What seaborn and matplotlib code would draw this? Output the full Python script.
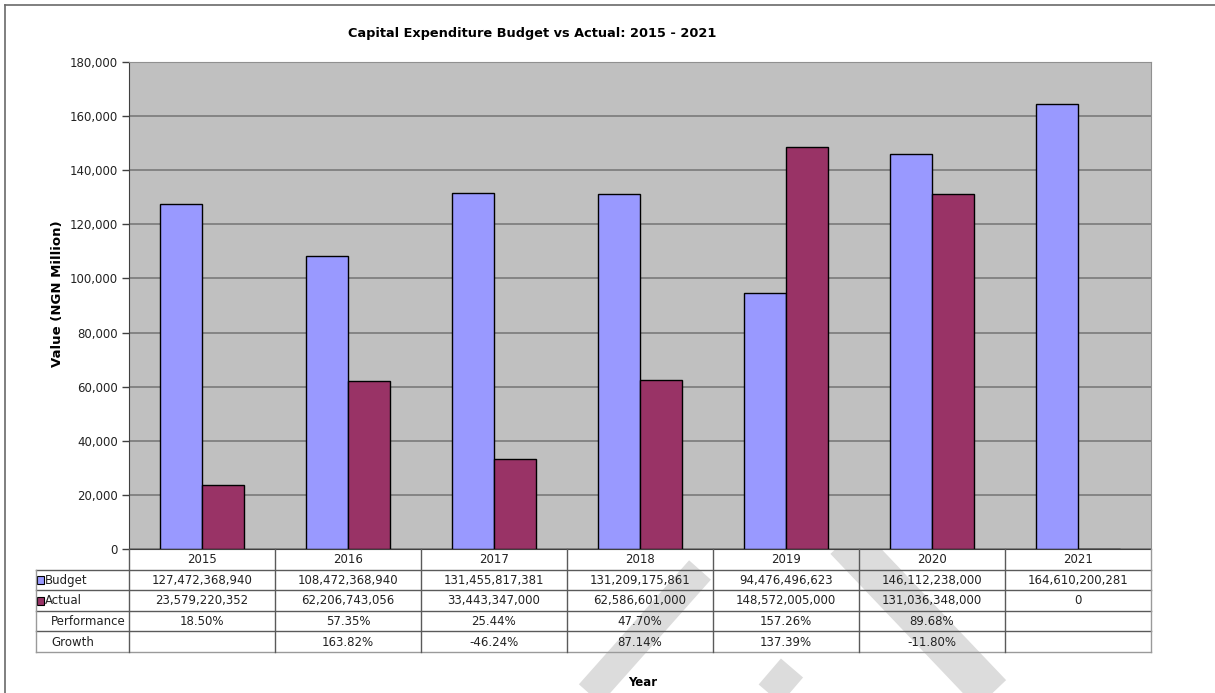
import pandas as pd
import matplotlib
matplotlib.use('Agg')
import matplotlib.pyplot as plt
from matplotlib.lines import Line2D
from matplotlib.patches import Rectangle
from matplotlib.ticker import FuncFormatter, MultipleLocator
import seaborn as sns

# data (NGN)
years = ['2015', '2016', '2017', '2018', '2019', '2020', '2021']
budget_ngn = [127472368940, 108472368940, 131455817381, 131209175861,
              94476496623, 146112238000, 164610200281]
actual_ngn = [23579220352, 62206743056, 33443347000, 62586601000,
              148572005000, 131036348000, 0]
performance = ['18.50%', '57.35%', '25.44%', '47.70%', '157.26%', '89.68%', '']
growth = ['', '163.82%', '-46.24%', '87.14%', '137.39%', '-11.80%', '']

series_names = ['Budget', 'Actual']
colors = {'Budget': '#9999ff', 'Actual': '#993366'}

df = pd.DataFrame({
    'Year': years * 2,
    'Series': ['Budget'] * len(years) + ['Actual'] * len(years),
    'Value': [v / 1e6 for v in budget_ngn] + [v / 1e6 for v in actual_ngn],
})

plt.rcParams['font.family'] = ['DejaVu Sans']

W, H = 1215, 693
fig = plt.figure(figsize=(W / 100, H / 100), dpi=100)

def fx(px):
    return px / W

def fy(py):
    return 1 - py / H

# plot area
ax_l, ax_r, ax_t, ax_b = 129, 1151, 62, 549
ax = fig.add_axes([fx(ax_l), fy(ax_b), fx(ax_r - ax_l), (ax_b - ax_t) / H])
ax.set_facecolor('#c0c0c0')

sns.barplot(data=df, x='Year', y='Value', hue='Series', hue_order=series_names,
            palette=colors, saturation=1, width=0.575, gap=0,
            edgecolor='black', linewidth=1, legend=False, ax=ax)

ax.set_xlim(-0.5, len(years) - 0.5)
ax.set_ylim(0, 180000)
ax.yaxis.set_major_locator(MultipleLocator(20000))
ax.yaxis.set_major_formatter(FuncFormatter(lambda v, p: f'{int(v):,}'))
ax.set_axisbelow(True)
ax.grid(axis='y', color='#7a7a7a', linewidth=1.2)
ax.grid(axis='x', visible=False)
ax.set_xticks([])
ax.set_xlabel('')
ax.tick_params(axis='y', direction='out', length=5, width=1, color='#404040',
               labelsize=8.5, pad=3, labelcolor='#222222')
for side in ['left', 'bottom']:
    ax.spines[side].set_color('#404040')
for side in ['top', 'right']:
    ax.spines[side].set_color('#909090')

ax.set_ylabel('Value (NGN Million)', fontweight='bold', fontsize=9.5)
ax.yaxis.set_label_coords((64 - ax_l) / (ax_r - ax_l), (ax_b - 294) / (ax_b - ax_t))

# data table below the plot
tab_b = 652
tab = fig.add_axes([fx(ax_l), fy(tab_b), fx(ax_r - ax_l), (tab_b - ax_b) / H])
tab.set_facecolor('none')
tab.axis('off')
n = len(years)
tab.set_xlim(-0.5, n - 0.5)
tab.set_ylim(5, 0)
unit = (ax_r - ax_l) / n
lab_left = -0.5 - (ax_l - 36) / unit

line_kw = dict(color='#5a5a5a', linewidth=1, clip_on=False)
for r in range(1, 5):
    tab.plot([lab_left, n - 0.5], [r, r], **line_kw)
tab.plot([lab_left, n - 0.5], [5, 5], color='#9a9a9a', linewidth=1, clip_on=False)
for c in range(n):
    tab.plot([c - 0.5, c - 0.5], [0, 5], **line_kw)
tab.plot([n - 0.5, n - 0.5], [0, 5], color='#9a9a9a', linewidth=1, clip_on=False)
tab.plot([lab_left, lab_left], [1, 5], color='#9a9a9a', linewidth=1, clip_on=False)

rows = [years,
        [f'{v:,}' for v in budget_ngn],
        [f'{v:,}' for v in actual_ngn],
        performance,
        growth]
for r, vals in enumerate(rows):
    for c, s in enumerate(vals):
        tab.text(c, r + 0.52, s, ha='center', va='center', fontsize=8.5,
                 color='#222222')

key_w = 7 / unit
for r, name in enumerate(series_names, start=1):
    tab.add_patch(Rectangle((lab_left + 0.008, r + 0.32), key_w, 0.38,
                            facecolor=colors[name], edgecolor='black',
                            linewidth=0.8, clip_on=False))
    tab.text(lab_left + 0.008 + key_w + 0.006, r + 0.52, name, ha='left',
             va='center', fontsize=8.5, color='#222222')
for r, name in [(3, 'Performance'), (4, 'Growth')]:
    tab.text(-0.5 - (ax_l - 51) / unit, r + 0.52, name, ha='left',
             va='center', fontsize=8.5, color='#222222')

# titles
fig.text(fx(532), fy(33), 'Capital Expenditure Budget vs Actual: 2015 - 2021',
         ha='center', va='center', fontsize=9.3, fontweight='bold')
fig.text(fx(643), fy(683), 'Year', ha='center', va='center', fontsize=8.5,
         fontweight='bold')

# chart border (cropped at right/bottom)
fig.add_artist(Line2D([fx(5), 1], [fy(5), fy(5)], color='#6a6a6a', linewidth=1.2))
fig.add_artist(Line2D([fx(5), fx(5)], [fy(5), 0], color='#6a6a6a', linewidth=1.2))

# light page watermark strokes behind the table
for (x0, y0), (x1, y1), w in [((580, 705), (700, 570), 21),
                               ((762, 703), (792, 668), 21),
                               ((845, 540), (1002, 705), 29)]:
    fig.add_artist(Line2D([fx(x0), fx(x1)], [fy(y0), fy(y1)], color='#dcdcdc',
                          linewidth=w, solid_capstyle='butt', zorder=-1))

fig.savefig('out.png', dpi=100)
